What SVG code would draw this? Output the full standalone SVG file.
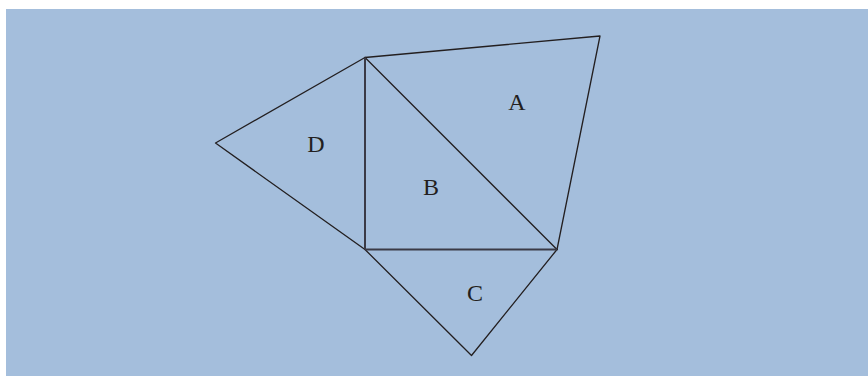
<svg xmlns="http://www.w3.org/2000/svg" width="868" height="376" viewBox="0 0 868 376">
<style>
.e{stroke:#231f20;stroke-width:1.3;fill:none;stroke-linecap:round;stroke-linejoin:round}
.h{stroke:#3a3a46;stroke-width:2;fill:none}
.l{font-family:"Liberation Serif",serif;font-size:24px;fill:#231f20;text-anchor:middle}
</style>
<rect x="0" y="0" width="868" height="376" fill="#ffffff"/>
<rect x="6" y="9" width="862" height="367" fill="#a4bedc"/>
<g id="connectors">
<polyline class="e" points="365,57.5 600,36 557,249.5"/>
<polyline class="e" points="365,57.5 215.5,143 365,249.5"/>
<line class="e" x1="365" y1="57.5" x2="557" y2="249.5"/>
<polyline class="e" points="365,249.5 471.5,355.5 557,249.5"/>
<line class="h" x1="365" y1="57.5" x2="365" y2="249.5"/>
<line class="h" x1="365" y1="249.5" x2="557" y2="249.5"/>
</g>
<g id="A"><text class="l" x="517" y="110">A</text></g>
<g id="B"><text class="l" x="431" y="195">B</text></g>
<g id="C"><text class="l" x="475" y="301">C</text></g>
<g id="D"><text class="l" x="316" y="152">D</text></g>
</svg>
